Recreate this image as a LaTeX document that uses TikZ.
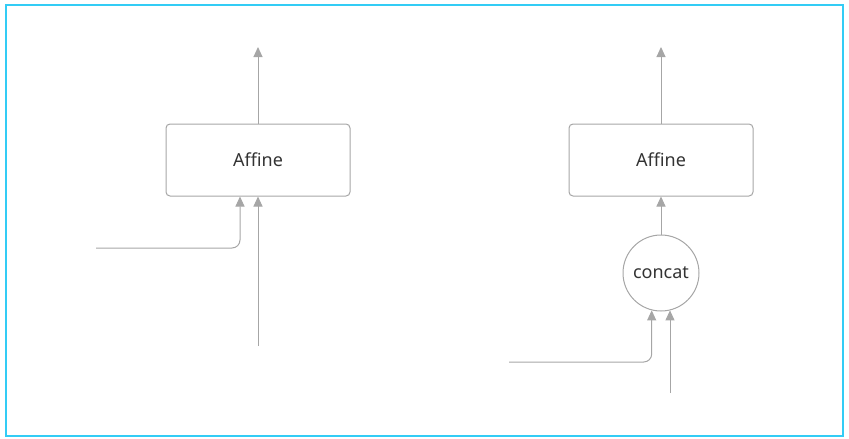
\documentclass[tikz,border=0pt]{standalone}
\usepackage{fontspec}
\setmainfont{Noto Sans}
\usetikzlibrary{arrows.meta}
\definecolor{framecolor}{HTML}{33CCF5}
\definecolor{linecolor}{HTML}{A6A6A6}
\definecolor{textcolor}{HTML}{333333}
\tikzset{
  layerbox/.style={draw=linecolor, line width=1pt, rounded corners=4pt,
    minimum width=184pt, minimum height=72pt, inner sep=0pt,
    text=textcolor, font=\fontsize{18}{21}\selectfont},
  opcircle/.style={draw=linecolor, line width=1pt, circle,
    minimum size=76pt, inner sep=0pt,
    text=textcolor, font=\fontsize{18}{21}\selectfont},
  flow/.style={draw=linecolor, line width=1pt,
    -{Triangle[width=9pt,length=10pt]}, linecolor},
  merge/.style={flow, rounded corners=8pt}
}
\begin{document}
\begin{tikzpicture}[x=1pt,y=-1pt]
\useasboundingbox (0,0) rectangle (849,439);
% Draw the outside frame
\draw[framecolor, line width=1.5pt] (6,5) rectangle (843,436);

% Left: two inputs straight into the affine layer
\node[layerbox] (affA) at (258,160) {Affine};
\coordinate (outA) at (258,47);
\coordinate (inA) at (96,248);
\coordinate (inB) at (258,346);
\draw[flow] (affA.north) -- (outA);
\draw[merge] (inA) -| ([xshift=-18pt]affA.south);
\draw[flow] (inB) -- (affA.south);

% Right: inputs joined by concat before the affine layer
\node[layerbox] (affB) at (661,160) {Affine};
\node[opcircle] (concat) at (661,273) {concat};
\coordinate (outB) at (661,47);
\coordinate (inC) at (509,362);
\coordinate (inD) at (670,393);
\draw[flow] (affB.north) -- (outB);
\draw[flow] (concat.north) -- (affB.south);
\draw[merge] (inC) -| (concat.-104);
\draw[flow] (inD) -- (inD |- concat.-76);
\end{tikzpicture}
\end{document}
